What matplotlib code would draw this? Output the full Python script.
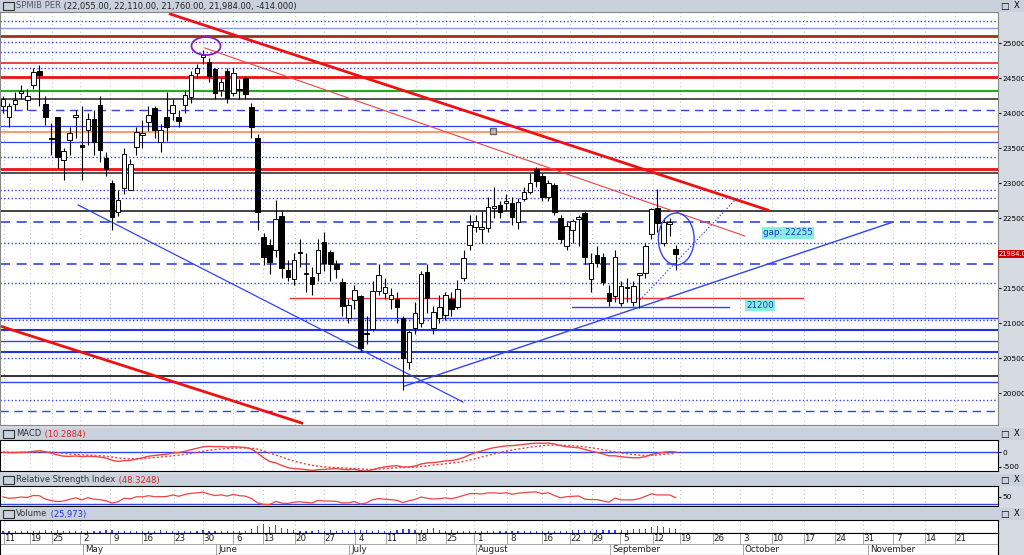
import numpy as np
import matplotlib
matplotlib.use("Agg")
import matplotlib.pyplot as plt
from matplotlib.patches import Ellipse, Rectangle

plt.rcParams['font.family'] = ['DejaVu Sans']

opens = [24100,23950,24130,24280,24180,24400,24600,24130,23650,23950,23330,23620,23950,23540,23760,23920,24120,23360,23000,22580,
         22930,22900,23520,23690,23870,24070,23590,23950,24000,23950,24120,24230,24570,24800,24730,24630,24330,24600,24280,24330,
         24500,24090,23640,22230,22110,22040,22530,21760,21630,22010,21700,21660,21710,22160,22010,21840,21580,21070,21330,21380,
         20840,20920,21460,21430,21340,21340,21070,20440,20930,21000,21730,20930,21070,21110,21340,21230,21640,22110,22370,22350,
         22360,22650,22690,22710,22710,22440,22770,22870,23200,23100,22800,22970,22500,22100,22330,22490,22570,21630,21970,21940,
         21430,21380,21290,21500,21300,21690,21710,22270,22640,22140,22420,22055]
highs = [24250,24150,24300,24400,24350,24650,24680,24250,23860,23950,23500,23800,24050,24100,24000,24050,24250,23450,23050,22900,
         23500,23350,23800,23900,24100,24100,23850,24300,24200,24050,24320,24600,24700,24900,24780,24650,24500,24650,24650,24480,
         24520,24150,23700,22280,22200,22760,22600,21900,22000,22200,22000,21800,22200,22300,22050,21900,21650,21350,21550,21400,
         21100,21600,21850,21650,21500,21450,21100,20900,21300,21750,21850,21250,21400,21450,21450,21620,22050,22550,22550,22600,
         22800,22950,22750,22850,22800,22780,22950,23150,23230,23150,23050,23000,22550,22450,22480,22550,22600,22000,22100,22000,
         21550,22050,21600,21650,21600,21700,22150,22650,22910,22500,22500,22110]
lows = [24000,23800,24050,24200,24050,24350,24100,23830,23400,23210,23050,23400,23650,23050,23550,23400,23300,23100,22330,22530,
        22850,22900,23400,23500,23750,23650,23450,23600,23900,23800,24000,24150,24500,24700,24450,24200,24250,24150,24250,24200,
        24200,23650,22330,21830,21700,21950,21650,21600,21550,21800,21450,21400,21600,21750,21600,21650,21100,21000,21200,20600,
        20700,20880,21400,21350,21200,21000,20050,20350,20850,20950,21150,20850,21000,21050,21100,21200,21600,22050,22300,22150,
        22300,22500,22500,22600,22400,22350,22750,22850,22950,22750,22750,22550,22150,22050,22150,22100,21850,21450,21800,21550,
        21250,21300,21250,21300,21250,21220,21650,22200,22300,22100,22250,21760]
closes = [24200,24100,24180,24320,24250,24580,24550,23950,23630,23370,23460,23720,23960,23520,23920,23580,23470,23200,22520,22760,
          23420,23270,23730,23710,23970,23760,23760,23800,24110,23880,24260,24540,24640,24830,24530,24280,24440,24210,24570,24350,
          24270,23800,22590,21940,21870,22480,21790,21660,21900,22000,21720,21560,22040,21860,21840,21770,21240,21260,21470,20640,
          20860,21460,21690,21520,21400,21230,20500,20870,21140,21700,21360,21160,21230,21400,21200,21490,21930,22400,22460,22370,
          22660,22670,22590,22740,22510,22730,22870,23000,23030,22800,23000,22590,22200,22390,22460,22510,21940,21860,21860,21590,
          21310,21940,21530,21520,21530,21710,22100,22630,22430,22440,22440,21984]
volumes = [20,18,22,20,25,18,22,28,24,30,26,22,20,24,18,22,26,28,30,24,
           20,22,18,24,20,26,28,24,22,20,24,26,22,28,24,20,26,22,24,20,
           26,40,80,95,70,90,55,40,30,26,24,22,30,26,28,24,30,26,28,35,
           30,26,28,24,26,30,38,45,30,28,40,50,30,26,28,24,22,26,24,22,
           20,24,22,20,18,22,26,20,24,22,20,24,26,22,28,30,36,26,28,32,
           30,28,34,30,38,44,40,60,78,64,55,40]

day_labels = ['11','19','25','2','9','16','23','30','6','13','20','27','4','11','18','25','1','8','16','22','29',
              '5','12','19','26','3','10','17','24','31','7','14','21']
day_px = [10,36,58,86,116,148,180,209,239,269,301,330,361,392,422,452,480,513,548,576,598,626,659,686,719,746,778,810,841,869,899,931,961]
month_labels = ['May','June','July','August','September','October','November']
month_px = [84,217,350,477,611,744,869]

price_ticks = list(range(20000, 25001, 500))

levels = [(25320,'#3344ee',':',1.0),(25210,'#8899ee','-',1.0),(25100,'#993311','-',2.0),(25020,'#3344ee',':',1.0),
          (24870,'#3344ee',':',1.0),(24720,'#ee2222','-',1.2),(24640,'#3344ee',':',1.0),(24520,'#ee1111','-',2.0),
          (24320,'#22aa22','-',1.5),(24200,'#444444','-',1.3),(24050,'#3344ee',(0,(6,4)),1.0),(23820,'#3344ee','-',0.9),
          (23730,'#ff8855','-',1.2),(23590,'#3344ee','-',0.9),(23370,'#3344ee',':',1.0),(23200,'#ee1111','-',2.0),
          (23140,'#333333','-',1.2),(22900,'#3344ee',':',1.0),(22780,'#3344ee',':',1.0),(22600,'#222222','-',1.2),
          (22440,'#3344ee',(0,(6,4)),1.2),(22140,'#3344ee',':',1.0),(21840,'#3344ee',(0,(6,4)),1.2),(21575,'#3344ee',':',1.0),
          (21075,'#3344ee','-',1.0),(21040,'#3344ee',':',1.0),(20900,'#2233dd','-',1.5),(20750,'#3344ee','-',1.0),
          (20590,'#2233dd','-',1.5),(20500,'#3344ee',':',1.0),(20250,'#222222','-',1.3),(20160,'#3344ee','-',1.0),
          (19900,'#3344ee',':',1.0),(19740,'#3344ee',(0,(6,4)),1.0)]

trends = [(27.6,25414,126.2,22614,'#ee1111','-',2.0),(33.3,24929,122.4,22243,'#ee4444','-',0.8),
          (-0.5,20957,49.3,19571,'#ee1111','-',2.0),(12.4,22686,75.9,19871,'#3344ee','-',0.9),
          (66.3,20100,146.9,22443,'#3344ee','-',1.0),(105.1,21329,120.8,22757,'#3344ee',':',0.9),
          (47.4,21360,132.0,21360,'#ee3333','-',1.0),(93.9,21230,119.8,21230,'#3344ee','-',1.0)]

W, H = 1024, 555
fig = plt.figure(figsize=(W/100, H/100), dpi=100)
fig.patch.set_facecolor('#d6dbe3')

def rect(x0, y0, x1, y1):
    return [x0/W, 1-y1/H, (x1-x0)/W, (y1-y0)/H]

RX = 998
def px2idx(px):
    return (px-3)/6.06

XL = (px2idx(0), px2idx(RX))
hdr_col = '#c9d1dc'
FS = 6.0
TFS = 5.4

def header(y0, y1, parts):
    a = fig.add_axes(rect(0, y0, 1024, y1)); a.set_axis_off()
    a.add_patch(Rectangle((0,0),1,1,transform=a.transAxes,color=hdr_col))
    a.add_patch(Rectangle((0.003,0.15),0.011,0.7,transform=a.transAxes,fill=False,ec='#333',lw=0.8))
    prev = a.text(0.016, 0.5, parts[0][0], transform=a.transAxes, fontsize=FS, color=parts[0][1], va='center')
    for t, c in parts[1:]:
        prev = a.annotate(t, xy=(1, 0.5), xycoords=prev, fontsize=FS, color=c, va='center', ha='left')
    a.text(0.981,0.5,'□',transform=a.transAxes,fontsize=6.5,va='center',ha='center')
    a.text(0.993,0.5,'X',transform=a.transAxes,fontsize=6,va='center',ha='center')

header(0, 12, [('SPMIB PER', '#555566'), (' (22,055.00, 22,110.00, 21,760.00, 21,984.00, -414.000)', '#222222')])

ax = fig.add_axes(rect(0, 12, RX, 425))
ax.set_facecolor('white')
ax.set_xlim(*XL)
ax.set_ylim(25000-(425-43)*14.2857, 25000+(43-12)*14.2857)
for p, c, ls, lw in levels:
    ax.axhline(p, color=c, ls=ls, lw=lw, zorder=1)
grid_idx = [px2idx(p-6) for p in day_px]
for g in grid_idx:
    ax.axvline(g, color='#bbbbbb', ls=(0,(1,3)), lw=0.7, zorder=0)
for x0,p0,x1,p1,c,ls,lw in trends:
    ax.plot([x0,x1],[p0,p1],color=c,ls=ls,lw=lw,zorder=2)

idx = np.arange(len(closes))
o, h, l, c = map(np.array, (opens, highs, lows, closes))
ax.vlines(idx, l, h, color='black', lw=0.8, zorder=3)
up = c >= o
body = np.maximum(np.abs(c-o), 15)
bot = np.minimum(o, c)
ax.bar(idx[up], body[up], bottom=bot[up], width=0.75, color='white', edgecolor='black', lw=0.7, zorder=4)
ax.bar(idx[~up], body[~up], bottom=bot[~up], width=0.75, color='black', edgecolor='black', lw=0.7, zorder=4)

ax.add_patch(Ellipse((111.1,22200),5.9,743,fill=False,ec='#3344ee',lw=1.0,zorder=5))
ax.add_patch(Ellipse((33.5,24957),4.8,257,fill=False,ec='#8822aa',lw=1.3,zorder=5))
ax.plot([80.9],[23743],marker='s',ms=4,mfc='#bbbbbb',mec='#666666',zorder=5)
ax.text(125.4,22286,'gap: 22255',fontsize=6.3,color='#2233cc',va='center',
        bbox=dict(boxstyle='square,pad=0.15',fc='#88eedd',ec='none'),zorder=6)
ax.text(122.6,21257,'21200',fontsize=6.3,color='#2233cc',va='center',
        bbox=dict(boxstyle='square,pad=0.15',fc='#88eedd',ec='none'),zorder=6)
ax.set_xticks([])
ax.yaxis.tick_right()
ax.set_yticks(price_ticks)
ax.set_yticklabels([str(t) for t in price_ticks], fontsize=TFS)
ax.tick_params(axis='y', length=2, pad=1)
yl = ax.get_ylim()
ax.text(1.001, (21984-yl[0])/(yl[1]-yl[0]), '21984.00', transform=ax.transAxes,
        fontsize=4.9, color='white', va='center', bbox=dict(boxstyle='square,pad=0.1',fc='#cc0000',ec='none'), zorder=7, clip_on=False)
for s in ax.spines.values(): s.set_color('#888888')

def ema(x, n):
    a = 2/(n+1); out = np.empty(len(x)); out[0] = x[0]
    for i in range(1, len(x)): out[i] = a*x[i] + (1-a)*out[i-1]
    return out
cf = c.astype(float)
macd = ema(cf,12) - ema(cf,26)
sig = ema(macd, 9)
header(428, 440, [('MACD', '#333333'), (' (10.2884)', '#dd2222')])
am = fig.add_axes(rect(0, 440, RX, 471))
am.set_xlim(*XL); am.set_ylim(-643, 428)
am.axhline(0, color='#3344ee', lw=1.0)
am.plot(idx, macd, color='#ee4444', lw=1.0)
am.plot(idx, sig, color='#ee4444', lw=1.0, ls=(0,(1.5,1.5)))
for g in grid_idx: am.axvline(g, color='#bbbbbb', ls=(0,(1,3)), lw=0.7, zorder=0)
am.set_xticks([]); am.yaxis.tick_right(); am.set_yticks([0,-500]); am.set_yticklabels(['0','-500'],fontsize=TFS)
am.tick_params(axis='y', length=2, pad=1)

d = np.diff(cf); g_ = np.where(d>0,d,0); l_ = np.where(d<0,-d,0)
ag = np.empty(len(d)); al = np.empty(len(d)); ag[0]=g_[:14].mean(); al[0]=l_[:14].mean()
for i in range(1,len(d)):
    ag[i]=(ag[i-1]*13+g_[i])/14; al[i]=(al[i-1]*13+l_[i])/14
rsi = np.concatenate([[50], 100-100/(1+ag/al)])
header(474, 486, [('Relative Strength Index', '#333333'), (' (48.3248)', '#dd2222')])
ar = fig.add_axes(rect(0, 486, RX, 506))
ar.set_xlim(*XL); ar.set_ylim(24, 81)
ar.axhline(30, color='#3344ee', lw=1.0)
ar.plot(idx, np.clip(rsi,25,80), color='#ee4444', lw=0.9)
for g in grid_idx: ar.axvline(g, color='#bbbbbb', ls=(0,(1,3)), lw=0.7, zorder=0)
ar.set_xticks([]); ar.yaxis.tick_right(); ar.set_yticks([50]); ar.set_yticklabels(['50'],fontsize=TFS)
ar.tick_params(axis='y', length=2, pad=1)

header(508, 520, [('Volume', '#333333'), (' (25,973)', '#2233dd')])
av = fig.add_axes(rect(0, 520, RX, 533))
av.set_xlim(*XL); av.set_ylim(0, 140)
av.bar(idx, volumes, width=0.2, color='#3344ee')
for g in grid_idx: av.axvline(g, color='#bbbbbb', ls=(0,(1,3)), lw=0.7, zorder=0)
av.set_xticks([]); av.set_yticks([])

ad = fig.add_axes(rect(0, 533, RX, 555))
ad.set_facecolor('white'); ad.set_xlim(0, RX); ad.set_ylim(1, 0)
ad.set_xticks([]); ad.set_yticks([])
ad.axhline(0.5, color='#999999', lw=0.6)
for t, p in zip(day_labels, day_px):
    ad.text(p, 0.25, t, fontsize=6.3, ha='center', va='center', color='#222')
    ad.plot([p-6,p-6],[0,0.5],color='#999999',lw=0.6)
for t, p in zip(month_labels, month_px):
    ad.text(p+1, 0.75, t, fontsize=6.3, ha='left', va='center', color='#222')
    ad.plot([p-1,p-1],[0.5,1],color='#999999',lw=0.6)

fig.savefig('out.png', dpi=100, facecolor=fig.get_facecolor())
